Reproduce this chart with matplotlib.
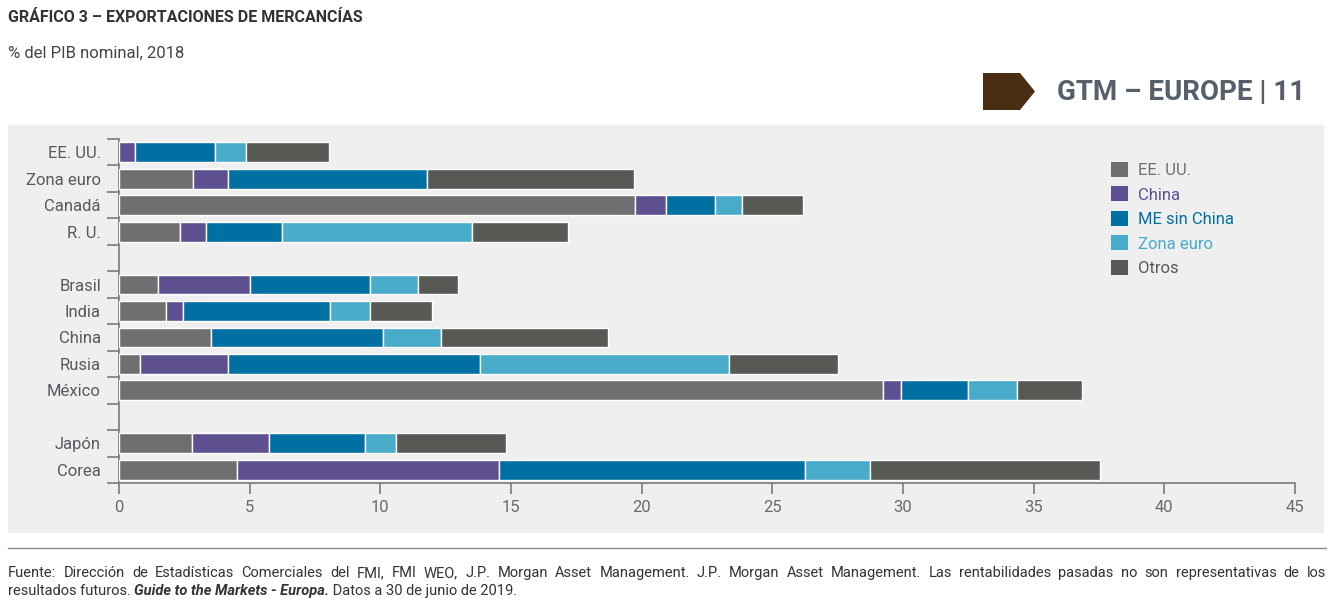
import matplotlib
matplotlib.use("Agg")
import matplotlib.pyplot as plt
from matplotlib.patches import Rectangle, Polygon, Patch
from matplotlib.lines import Line2D
import numpy as np

plt.rcParams['font.family'] = ['Roboto', 'DejaVu Sans']

# data: % of nominal GDP, 2018
countries = ['EE. UU.', 'Zona euro', 'Canadá', 'R. U.',
             'Brasil', 'India', 'China', 'Rusia', 'México',
             'Japón', 'Corea']
groups = [4, 5, 2]  # rows per block, a blank slot between blocks

series = ['EE. UU.', 'China', 'ME sin China', 'Zona euro', 'Otros']
ee_uu = [0.0, 2.83, 19.75, 2.33, 1.49, 1.80, 3.52, 0.80, 29.24, 2.79, 4.52]
china = [0.60, 1.34, 1.18, 1.00, 3.52, 0.65, 0.0, 3.37, 0.69, 2.95, 10.02]
me_sin_china = [3.07, 7.62, 1.88, 2.91, 4.60, 5.62, 6.58, 9.65, 2.56, 3.67, 11.71]
zona_euro = [1.19, 0.0, 1.03, 7.27, 1.83, 1.54, 2.22, 9.53, 1.88, 1.19, 2.49]
otros = [3.18, 7.92, 2.34, 3.67, 1.53, 2.37, 6.39, 4.17, 2.48, 4.21, 8.80]

colors = ['#6e6f71', '#5e4f91', '#0070a2', '#48abca', '#575955']

W, H = 1332, 602
fig = plt.figure(figsize=(W / 100, H / 100), dpi=100)

def fx(px):
    return px / W

def fy(py):
    return 1 - py / H

# grey panel behind the chart
fig.patches.append(Rectangle((fx(8), fy(533)), fx(1324) - fx(8), fy(125) - fy(533),
                             transform=fig.transFigure, facecolor='#efefef',
                             edgecolor='none', zorder=-1))

ax = fig.add_axes([fx(119), fy(483), fx(1295) - fx(119), fy(139) - fy(483)])
ax.set_facecolor('none')

# row positions with gaps between blocks
pos = []
slot = 0
for g in groups:
    pos += list(range(slot, slot + g))
    slot += g + 1
pos = np.array(pos)
nslots = slot - 1

data = [ee_uu, china, me_sin_china, zona_euro, otros]
left = np.zeros(len(countries))
for name, vals, col in zip(series, data, colors):
    vals = np.array(vals)
    m = vals > 0
    ax.barh(pos[m], vals[m], left=left[m], height=0.75, color=col,
            edgecolor='white', linewidth=1.0, zorder=3)
    left += vals

ax.set_xlim(0, 45)
ax.set_ylim(nslots - 0.5, -0.5)

ax.set_yticks(pos)
ax.set_yticklabels(countries)
ax.set_yticks(np.arange(-0.5, nslots, 1.0), minor=True)
ax.tick_params(axis='y', which='major', length=0, pad=13, labelsize=12, labelcolor='#555a60')
ax.tick_params(axis='y', which='minor', length=9, width=1.2, color='#7a7a7a')
ax.set_xticks(np.arange(0, 46, 5))
ax.tick_params(axis='x', length=8, width=1.2, color='#7a7a7a', pad=4,
               labelsize=12, labelcolor='#6a6a6a')

for s in ['top', 'right']:
    ax.spines[s].set_visible(False)
for s in ['left', 'bottom']:
    ax.spines[s].set_color('#7a7a7a')
    ax.spines[s].set_linewidth(1.2)

handles = [Patch(facecolor=c, edgecolor='none') for c in colors]
fig.legend(handles, series, loc='upper left', bbox_to_anchor=(fx(1111), fy(162)),
           frameon=False, fontsize=12, handlelength=1.0, handleheight=1.0,
           handletextpad=0.6, labelspacing=0.5, borderpad=0, borderaxespad=0,
           labelcolor=colors)

# header
fig.text(fx(8), fy(18), 'GRÁFICO 3 – EXPORTACIONES DE MERCANCÍAS', fontsize=11.5,
         fontweight='bold', color='#333333', va='center', ha='left')
fig.text(fx(8), fy(53), '% del PIB nominal, 2018', fontsize=12, color='#444444',
         va='center', ha='left')
fig.patches.append(Polygon([(fx(983), fy(73)), (fx(1020), fy(73)), (fx(1035), fy(91.5)),
                            (fx(1020), fy(110)), (fx(983), fy(110))],
                           closed=True, transform=fig.transFigure,
                           facecolor='#4b2d14', edgecolor='none'))
fig.text(fx(1057), fy(92), 'GTM – EUROPE | 11', fontsize=20, fontweight='bold',
         color='#56606c', va='center', ha='left')

# footer
fig.add_artist(Line2D([fx(8), fx(1326)], [fy(548), fy(548)], color='#8a8a8a',
                      linewidth=1.0, transform=fig.transFigure))

renderer = fig.canvas.get_renderer()
foot1 = ('Fuente: Dirección de Estadísticas Comerciales del FMI, FMI WEO, J.P. Morgan Asset '
         'Management. J.P. Morgan Asset Management. Las rentabilidades pasadas no son '
         'representativas de los')
words = foot1.split(' ')
texts = [fig.text(0, fy(573), w, fontsize=10.5, color='#333333', va='center', ha='left')
         for w in words]
widths = [t.get_window_extent(renderer).width for t in texts]
gap = (1326 - 8 - sum(widths)) / (len(words) - 1)
x = 8
for t, w in zip(texts, widths):
    t.set_x(fx(x))
    x += w + gap

parts = [('resultados futuros. ', {}),
         ('Guide to the Markets - Europa.', {'fontweight': 'bold', 'fontstyle': 'italic'}),
         (' Datos a 30 de junio de 2019.', {})]
x = 8
for s, kw in parts:
    t = fig.text(fx(x), fy(591), s, fontsize=10.5, color='#333333', va='center',
                 ha='left', **kw)
    x += t.get_window_extent(renderer).width

fig.savefig('out.png', dpi=100)
